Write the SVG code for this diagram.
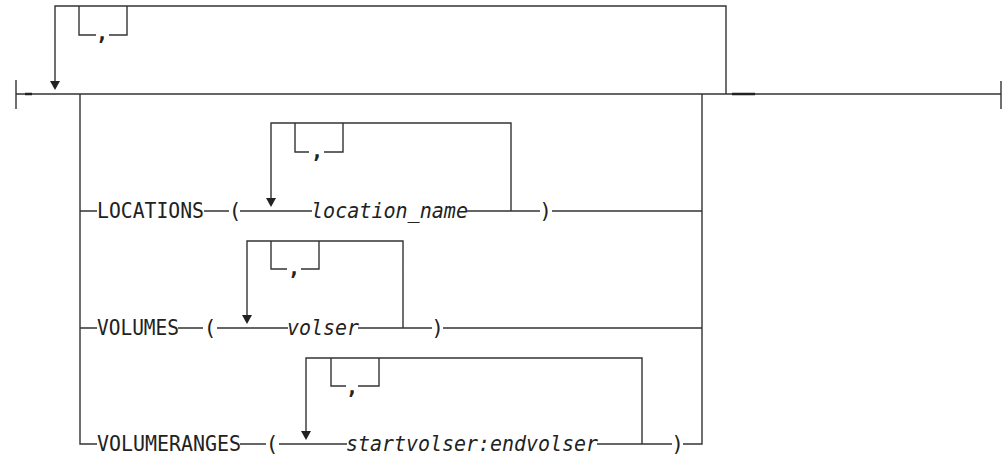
<svg xmlns="http://www.w3.org/2000/svg" xmlns:xlink="http://www.w3.org/1999/xlink" width="1003" height="455" viewBox="0 0 1003 455">
<style>
.ln{fill:none;stroke:#333;stroke-width:1.4}
.tk{fill:none;stroke:#222;stroke-width:2.4}
.t{font-family:"DejaVu Sans Mono","Liberation Mono",monospace;font-size:21px;fill:#222}
.i{font-style:italic}
.c{text-anchor:middle}
.cm{font-weight:bold}
.arr{fill:#222}
</style>
<defs><path id="arr" d="M-5,-9H5L0,0Z"/></defs>
<rect width="1003" height="455" fill="#fff"/>
<g id="connectors">
<path class="ln" d="M16,94H1001 M16,80V109 M1001,81V109"/>
<path class="tk" d="M25,94H32 M732,94H755"/>
<path class="ln" d="M55,82V6H726V94 M79,6V35H96 M109,35H127V6"/>
<path class="ln" d="M80,94V444H97 M702,94V444H683"/>
<path class="ln" d="M80,211H97 M204,211H229 M240,211H312 M467,211H540 M552,211H702"/>
<path class="ln" d="M271,199V123H511V211 M295,123V152H309 M324,152H343V123"/>
<path class="ln" d="M80,328H97 M178,328H203 M217,328H288 M358,328H432 M443,328H702"/>
<path class="ln" d="M247,316V241H403V328 M271,241V269H287 M301,269H319V241"/>
<path class="ln" d="M240,444H266 M279,444H347 M597,444H672"/>
<path class="ln" d="M306,432V358H642V444 M331,358V386H346 M358,386H379V358"/>
<use xlink:href="#arr" class="arr" x="55" y="90"/>
<use xlink:href="#arr" class="arr" x="271" y="207"/>
<use xlink:href="#arr" class="arr" x="247" y="324"/>
<use xlink:href="#arr" class="arr" x="306" y="440"/>
</g>
<g id="repeat-top"><text class="t c cm" x="102" y="40">,</text></g>
<g id="locations">
<text class="t" x="97" y="218" textLength="107" lengthAdjust="spacingAndGlyphs">LOCATIONS</text>
<text class="t c" x="235" y="218">(</text>
<text class="t i" x="311" y="218" textLength="157" lengthAdjust="spacingAndGlyphs">location_name</text>
<text class="t c cm" x="317" y="158">,</text>
<text class="t c" x="545.5" y="218">)</text>
</g>
<g id="volumes">
<text class="t" x="97" y="335" textLength="82" lengthAdjust="spacingAndGlyphs">VOLUMES</text>
<text class="t c" x="210" y="335">(</text>
<text class="t i" x="287" y="335" textLength="72" lengthAdjust="spacingAndGlyphs">volser</text>
<text class="t c cm" x="294" y="275">,</text>
<text class="t c" x="437.5" y="335">)</text>
</g>
<g id="volumeranges">
<text class="t" x="97" y="451" textLength="144" lengthAdjust="spacingAndGlyphs">VOLUMERANGES</text>
<text class="t c" x="272" y="451">(</text>
<text class="t i" x="346" y="451" textLength="252" lengthAdjust="spacingAndGlyphs">startvolser:endvolser</text>
<text class="t c cm" x="352" y="394">,</text>
<text class="t c" x="677.5" y="451">)</text>
</g>
</svg>
